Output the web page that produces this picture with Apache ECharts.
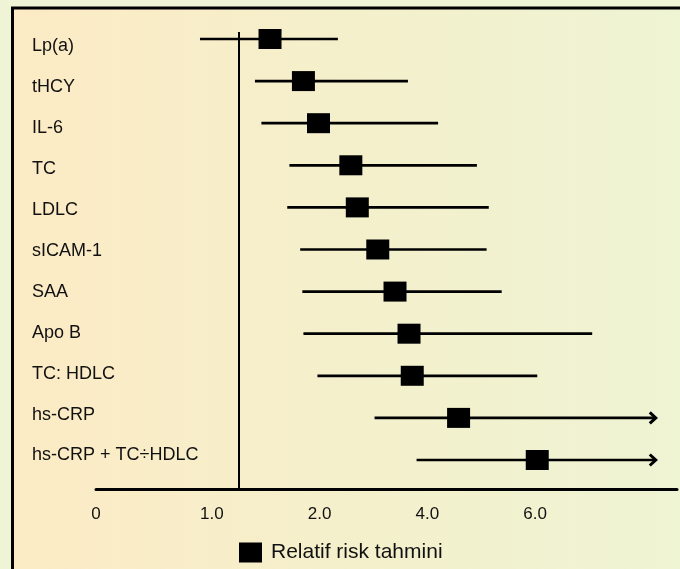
<!DOCTYPE html>
<html>
<head>
<meta charset="utf-8">
<script src="https://cdn.jsdelivr.net/npm/echarts@6/dist/echarts.min.js"></script>
<style>
html,body{margin:0;padding:0;background:#eef4d5;}
#c{width:680px;height:569px;}
</style>
</head>
<body>
<div id="c"></div>
<script>
// Row labels (top to bottom)
var categories = ['Lp(a)', 'tHCY', 'IL-6', 'TC', 'LDLC', 'sICAM-1', 'SAA', 'Apo B', 'TC: HDLC', 'hs-CRP', 'hs-CRP + TC\u00f7HDLC'];
// Values as positions on the chart's axis (tick units: 1.0→1, 2.0→2, 4.0→3, 6.0→4)
var estimate = [1.54, 1.85, 1.99, 2.29, 2.35, 2.54, 2.70, 2.83, 2.86, 3.29, 4.02];
var lower    = [0.89, 1.40, 1.46, 1.72, 1.70, 1.82, 1.84, 1.85, 1.98, 2.51, 2.90];
var upper    = [2.17, 2.82, 3.10, 3.46, 3.57, 3.55, 3.69, 4.53, 4.02, 5.12, 5.12];
var openEnded = [0, 0, 0, 0, 0, 0, 0, 0, 0, 1, 1];
var referenceLine = 1.25;
var tickPositions = [-0.075, 1, 2, 3, 4];
var tickLabels = ['0', '1.0', '2.0', '4.0', '6.0'];
var legendName = 'Relatif risk tahmini';

var scatterData = estimate.map(function (v, i) { return [v, i]; });
var barData = lower.map(function (v, i) { return [v, i, upper[i], openEnded[i]]; });

var chart = echarts.init(document.getElementById('c'));
var font = 'Liberation Sans, Arial, sans-serif';
chart.setOption({
  backgroundColor: '#eef4d5',
  animation: false,
  graphic: [{
    type: 'rect', z: -1, silent: true,
    shape: { x: 12.5, y: 8, width: 700, height: 620 },
    style: {
      stroke: '#000', lineWidth: 3,
      fill: new echarts.graphic.LinearGradient(0, 0, 1, 0, [
        { offset: 0, color: '#fcebc5' },
        { offset: 0.5, color: '#f4f0cc' },
        { offset: 1, color: '#eef4d4' }
      ])
    }
  }],
  legend: {
    data: [legendName],
    left: 234, top: 537,
    icon: 'rect', itemWidth: 23, itemHeight: 20,
    itemStyle: { color: '#000', opacity: 1 },
    textStyle: { fontFamily: font, fontSize: 21, color: '#111', padding: [0, 0, 0, 4] }
  },
  grid: [
    { left: 96, right: 3, top: 32, bottom: 80 },
    { left: 96, width: 10, top: 25.5, height: 450.5 }
  ],
  xAxis: [{
    type: 'value', gridIndex: 0, position: 'bottom',
    min: -0.075, max: 5.317,
    axisLine: { show: true, onZero: false, lineStyle: { color: '#000', width: 3 } },
    axisTick: { show: false },
    splitLine: { show: false },
    axisLabel: {
      customValues: tickPositions,
      margin: 17,
      fontFamily: font, fontSize: 17, color: '#111',
      formatter: function (v) {
        for (var k = 0; k < tickPositions.length; k++) {
          if (Math.abs(tickPositions[k] - v) < 1e-6) return tickLabels[k];
        }
        return '';
      }
    }
  }, {
    type: 'value', gridIndex: 1, show: false
  }],
  yAxis: [{
    type: 'value', gridIndex: 0, inverse: true,
    min: -0.166, max: 10.689, show: false
  }, {
    type: 'category', gridIndex: 1, inverse: true,
    data: categories, boundaryGap: true,
    axisLine: { show: false }, axisTick: { show: false }, splitLine: { show: false },
    axisLabel: { align: 'left', margin: 64, fontFamily: font, fontSize: 18, color: '#111' }
  }],
  series: [{
    type: 'custom',
    xAxisIndex: 0, yAxisIndex: 0,
    data: barData,
    encode: { x: [0, 2], y: 1 },
    silent: true,
    renderItem: function (params, api) {
      var p1 = api.coord([api.value(0), api.value(1)]);
      var p2 = api.coord([api.value(2), api.value(1)]);
      var children = [{
        type: 'line',
        shape: { x1: p1[0], y1: p1[1], x2: p2[0], y2: p2[1] },
        style: { stroke: '#000', lineWidth: 2.7 }
      }];
      if (api.value(3)) {
        children.push({
          type: 'polyline',
          shape: { points: [[p2[0] - 6, p2[1] - 5.5], [p2[0], p2[1]], [p2[0] - 6, p2[1] + 5.5]] },
          style: { stroke: '#000', lineWidth: 3, fill: null }
        });
      }
      return { type: 'group', children: children };
    },
    z: 3
  }, {
    name: legendName,
    type: 'scatter',
    xAxisIndex: 0, yAxisIndex: 0,
    data: scatterData,
    symbol: 'rect', symbolSize: [23, 20],
    itemStyle: { color: '#000', opacity: 1 },
    z: 4,
    markLine: {
      silent: true, symbol: 'none',
      label: { show: false },
      lineStyle: { color: '#000', width: 2, type: 'solid' },
      data: [{ xAxis: referenceLine }]
    }
  }]
});
</script>
</body>
</html>
